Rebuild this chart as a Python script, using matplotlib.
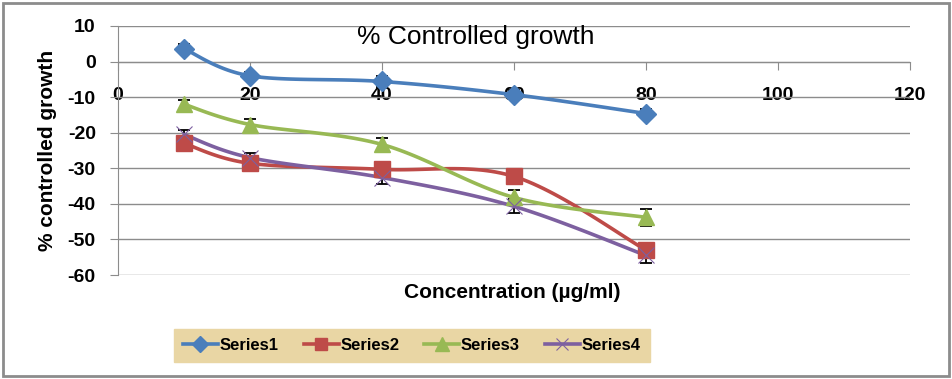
import matplotlib.pyplot as plt
import numpy as np
from matplotlib.patches import Rectangle

conc = [10, 20, 40, 60, 80]
series1 = [3.6, -4.0, -5.6, -9.3, -14.6]
series2 = [-23.0, -28.6, -30.3, -32.3, -53.0]
series3 = [-12.0, -17.7, -23.3, -38.2, -43.8]
series4 = [-20.5, -27.0, -32.6, -40.7, -54.5]
err1 = [1.2, 1.2, 1.5, 1.2, 1.3]
err2 = [1.5, 1.5, 1.8, 1.2, 2.0]
err3 = [1.3, 1.5, 1.8, 2.0, 2.3]
err4 = [1.2, 1.3, 1.8, 2.0, 2.0]
names = ["Series1", "Series2", "Series3", "Series4"]
xticks = [0, 20, 40, 60, 80, 100, 120]
yticks = [10, 0, -10, -20, -30, -40, -50, -60]

colors = ["#4A7EBB", "#BE4B48", "#98B954", "#7D60A0"]
markers = ["D", "s", "^", "x"]
msizes = [10, 11, 12, 11]

plt.rcParams["font.family"] = ["Liberation Sans", "DejaVu Sans"]
plt.rcParams["axes.unicode_minus"] = False


def smooth(x, y, n=30):
    # bezier smoothing like excel's "smoothed line"
    x = np.asarray(x, float)
    y = np.asarray(y, float)
    px = np.concatenate([[x[0]], x, [x[-1]]])
    py = np.concatenate([[y[0]], y, [y[-1]]])
    t = np.linspace(0, 1, n)[:, None]
    xs, ys = [], []
    for i in range(1, len(px) - 2):
        p0 = np.array([px[i], py[i]])
        p3 = np.array([px[i + 1], py[i + 1]])
        c1 = p0 + (p3 - np.array([px[i - 1], py[i - 1]])) / 6
        c2 = p3 - (np.array([px[i + 2], py[i + 2]]) - p0) / 6
        b = ((1 - t) ** 3) * p0 + 3 * ((1 - t) ** 2) * t * c1 + 3 * (1 - t) * t ** 2 * c2 + t ** 3 * p3
        xs.append(b[:, 0])
        ys.append(b[:, 1])
    return np.concatenate(xs), np.concatenate(ys)


fig = plt.figure(figsize=(9.53, 3.79), dpi=100)
fig.patches.append(Rectangle((0.003, 0.008), 0.993, 0.985, transform=fig.transFigure,
                             fill=False, edgecolor="#8C8C8C", lw=2))
ax = fig.add_axes([0.1238, 0.2744, 0.8311, 0.657])

handles = []
for ys, es, c, m, ms, name in zip([series1, series2, series3, series4],
                                  [err1, err2, err3, err4], colors, markers, msizes, names):
    ax.errorbar(conc, ys, yerr=es, fmt="none", ecolor="black", elinewidth=1.3,
                capsize=4, capthick=1.3, zorder=3)
    sx, sy = smooth(conc, ys)
    ax.plot(sx, sy, color=c, lw=2.6, zorder=4, solid_capstyle="round")
    mew = 0.8 if m == "x" else 1
    ax.plot(conc, ys, ls="none", marker=m, ms=ms, color=c, mec=c, mew=mew, zorder=5)
    h, = ax.plot([], [], color=c, lw=2.6, marker=m, ms=ms - 2, mew=mew, label=name)
    handles.append(h)

for s in ["top", "right"]:
    ax.spines[s].set_visible(False)
ax.spines["bottom"].set_position(("data", 0))
ax.spines["bottom"].set_color("#8C8C8C")
ax.spines["left"].set_color("#8C8C8C")

ax.set_xlim(0, 120)
ax.set_ylim(-60, 10)
ax.set_xticks(xticks)
ax.set_xticklabels([str(v) for v in xticks], fontweight="bold", fontsize=14)
ax.set_yticks(yticks)
ax.set_yticklabels([str(v) for v in yticks], fontweight="bold", fontsize=14)
ax.yaxis.grid(True, color="#8C8C8C", lw=1)
ax.set_axisbelow(True)
ax.tick_params(axis="x", direction="out", length=6, color="#8C8C8C", pad=12)
ax.tick_params(axis="y", direction="out", length=6, color="#8C8C8C", pad=10)

ax.text(0.452, 0.955, "% Controlled growth", transform=ax.transAxes, ha="center",
        va="center", fontsize=19, zorder=6)
ax.set_ylabel("% controlled growth", fontsize=15, fontweight="bold", labelpad=8)
fig.text(0.537, 0.228, "Concentration (µg/ml)", ha="center", va="center",
         fontsize=15, fontweight="bold")

leg = fig.legend(handles=handles, loc="center", bbox_to_anchor=(0.432, 0.088), ncol=4,
                 frameon=True, fancybox=False, facecolor="#E9D6A4", edgecolor="#E9D6A4",
                 framealpha=1, prop={"weight": "bold", "size": 12},
                 handlelength=2.1, handletextpad=0.1, columnspacing=1.5,
                 borderpad=0.55, numpoints=1)

fig.savefig("out.png", dpi=100)
